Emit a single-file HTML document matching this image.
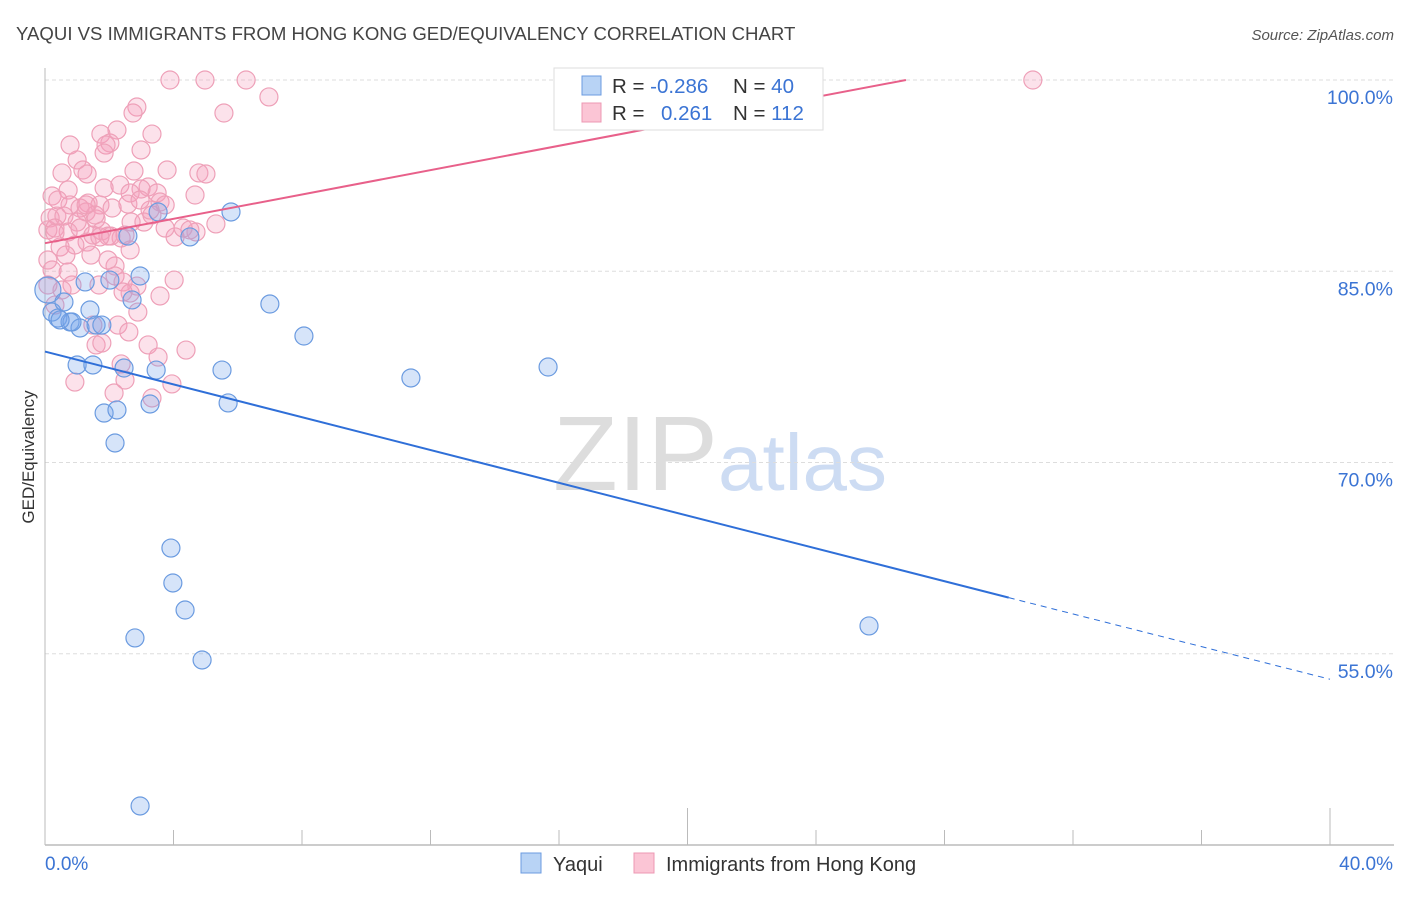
<!DOCTYPE html>
<html><head><meta charset="utf-8"><style>
body{margin:0;background:#fff;font-family:"Liberation Sans",sans-serif}
svg text{font-family:"Liberation Sans",sans-serif}
</style></head><body>
<svg id="c" width="1406" height="892" xmlns="http://www.w3.org/2000/svg">
<text x="16" y="40" font-size="18.6" fill="#444">YAQUI VS IMMIGRANTS FROM HONG KONG GED/EQUIVALENCY CORRELATION CHART</text>
<text x="1394" y="40" font-size="15" fill="#555" font-style="italic" text-anchor="end">Source: ZipAtlas.com</text>
<text transform="translate(34,457) rotate(-90)" font-size="17" fill="#333" text-anchor="middle">GED/Equivalency</text>
<text x="553" y="490" font-size="106" fill="#ddd" font-family="Liberation Serif">ZIP</text>
<text x="718" y="490" font-size="80" fill="#cddcf3">atlas</text>
<g id="grid"></g><g id="axes"></g><g id="pts"></g><g id="trend"></g>
<g>
<rect x="554" y="68" width="269" height="62" fill="#fff" stroke="#ddd"/>
<rect x="582" y="76" width="19" height="19" fill="#b8d3f5" stroke="#6b9be0"/>
<rect x="582" y="103" width="19" height="19" fill="#fbc5d5" stroke="#ec98b3"/>
<text x="612" y="93" font-size="20.5" fill="#333">R = <tspan fill="#3b74d4">-0.286</tspan></text>
<text x="733" y="93" font-size="20.5" fill="#333">N = <tspan fill="#3b74d4">40</tspan></text>
<text x="612" y="120" font-size="20.5" fill="#333">R = </text><text x="661" y="120" font-size="20.5" fill="#3b74d4">0.261</text>
<text x="733" y="120" font-size="20.5" fill="#333">N = <tspan fill="#3b74d4">112</tspan></text>
</g>
<g>
<rect x="521" y="853" width="20" height="20" fill="#b8d3f5" stroke="#6b9be0"/>
<text x="553" y="871" font-size="20" fill="#333">Yaqui</text>
<rect x="634" y="853" width="20" height="20" fill="#fbc5d5" stroke="#ec98b3"/>
<text x="666" y="871" font-size="20" fill="#333">Immigrants from Hong Kong</text>
</g>
</svg>
<script>
const yTicks=[100,85,70,55];
const yTickLabels=["100.0%","85.0%","70.0%","55.0%"];
const xTickVals=[0,4,8,12,16,20,24,28,32,36,40];
const yaquiPx=[[48,290],[52,312],[58,318],[64,302],[70,322],[80,328],[72,322],[77,365],[85,282],[90,310],[93,365],[96,325],[102,325],[104,413],[110,280],[115,443],[117,410],[124,368],[128,236],[132,300],[135,638],[140,276],[140,806],[150,404],[156,370],[158,212],[171,548],[173,583],[185,610],[190,237],[202,660],[222,370],[228,403],[231,212],[270,304],[304,336],[411,378],[548,367],[869,626],[60,320]];
const hkPx=[[170,80],[205,80],[246,80],[1033,80],[269,97],[137,107],[133,113],[224,113],[117,130],[152,134],[101,134],[110,143],[106,145],[70,145],[141,150],[104,153],[77,160],[62,173],[83,170],[87,174],[167,170],[134,171],[199,173],[206,174],[120,185],[104,188],[148,187],[68,190],[141,189],[130,193],[157,193],[195,195],[52,196],[58,200],[88,203],[70,205],[80,208],[100,205],[112,208],[57,216],[50,218],[64,216],[86,212],[96,219],[77,222],[160,202],[165,205],[152,215],[144,222],[131,222],[216,224],[48,230],[55,228],[68,232],[80,228],[102,231],[93,235],[108,236],[121,238],[125,235],[87,242],[111,236],[60,247],[75,245],[100,237],[91,255],[130,250],[175,237],[196,232],[183,228],[48,260],[52,270],[68,272],[115,266],[115,276],[72,285],[99,285],[123,282],[137,286],[160,296],[130,293],[138,312],[123,292],[174,280],[48,285],[93,325],[118,325],[129,332],[96,345],[102,343],[148,345],[121,364],[158,357],[186,350],[75,382],[125,380],[114,393],[172,384],[152,398],[55,305],[62,290],[165,228],[190,230],[128,204],[95,215],[86,205],[150,210],[66,255],[108,260],[55,233],[140,200]];
const yaquiX=yaquiPx.map(p=>+((p[0]-45)/32.125).toFixed(2));
const yaquiY=yaquiPx.map(p=>+(100-(p[1]-80)/12.75).toFixed(2));
const hkX=hkPx.map(p=>+((p[0]-45)/32.125).toFixed(2));
const hkY=hkPx.map(p=>+(100-(p[1]-80)/12.75).toFixed(2));
const yaquiTrend=[[0,78.7],[30,59.4],[40,53]];
const hkTrend=[[0,87.2],[26.8,100]];
const X=v=>45+v*32.125, Y=v=>80+(100-v)*12.75;
const NS="http://www.w3.org/2000/svg";
function mk(t,a,p){const e=document.createElementNS(NS,t);for(const k in a)e.setAttribute(k,a[k]);p.appendChild(e);return e;}
const grid=document.getElementById('grid'),axes=document.getElementById('axes'),pts=document.getElementById('pts'),tr=document.getElementById('trend');
yTicks.forEach((v,i)=>{
 const l=mk('line',{x1:45,x2:1394,y1:Y(v),y2:Y(v),stroke:'#ddd','stroke-dasharray':'4,3'},grid);
 
 
 const t=mk('text',{x:1393,y:Y(v)+24,'font-size':19.5,fill:'#3b74d4','text-anchor':'end'},grid);
 t.textContent=yTickLabels[i];
 
 
});
const ax=mk('line',{x1:45,x2:1394,y1:845,y2:845,stroke:'#bbb','stroke-width':1.5},axes);


const ay=mk('line',{x1:45,x2:45,y1:68,y2:845,stroke:'#bbb'},axes);


xTickVals.forEach(v=>{
 const tall=(v==20||v==40);
 const t=mk('line',{x1:X(v),x2:X(v),y1:tall?808:830,y2:845,stroke:'#bbb'},axes);
 
 
});
const xl0=mk('text',{x:45,y:870,'font-size':19,fill:'#3b74d4'},axes);xl0.textContent='0.0%';


const xl1=mk('text',{x:1393,y:870,'font-size':19,fill:'#3b74d4','text-anchor':'end'},axes);xl1.textContent='40.0%';


hkX.forEach((x,i)=>{
 const c=mk('circle',{cx:X(x),cy:Y(hkY[i]),r:9,fill:'rgba(244,160,188,0.3)',stroke:'#eea0b8','stroke-width':1.2},pts);
 
 
});
yaquiX.forEach((x,i)=>{
 const c=mk('circle',{cx:X(x),cy:Y(yaquiY[i]),r:i==0?13:9,fill:'rgba(120,165,235,0.3)',stroke:'#6b9be0','stroke-width':1.2},pts);
 
 
});
const b1=mk('line',{x1:X(yaquiTrend[0][0]),y1:Y(yaquiTrend[0][1]),x2:X(yaquiTrend[1][0]),y2:Y(yaquiTrend[1][1]),stroke:'#2f6fd8','stroke-width':2},tr);


const b2=mk('line',{x1:X(yaquiTrend[1][0]),y1:Y(yaquiTrend[1][1]),x2:X(yaquiTrend[2][0]),y2:Y(yaquiTrend[2][1]),stroke:'#2f6fd8','stroke-width':1,'stroke-dasharray':'6,5'},tr);


const p1=mk('line',{x1:X(hkTrend[0][0]),y1:Y(hkTrend[0][1]),x2:X(hkTrend[1][0]),y2:Y(hkTrend[1][1]),stroke:'#e8608a','stroke-width':2},tr);


</script>
</body></html>
